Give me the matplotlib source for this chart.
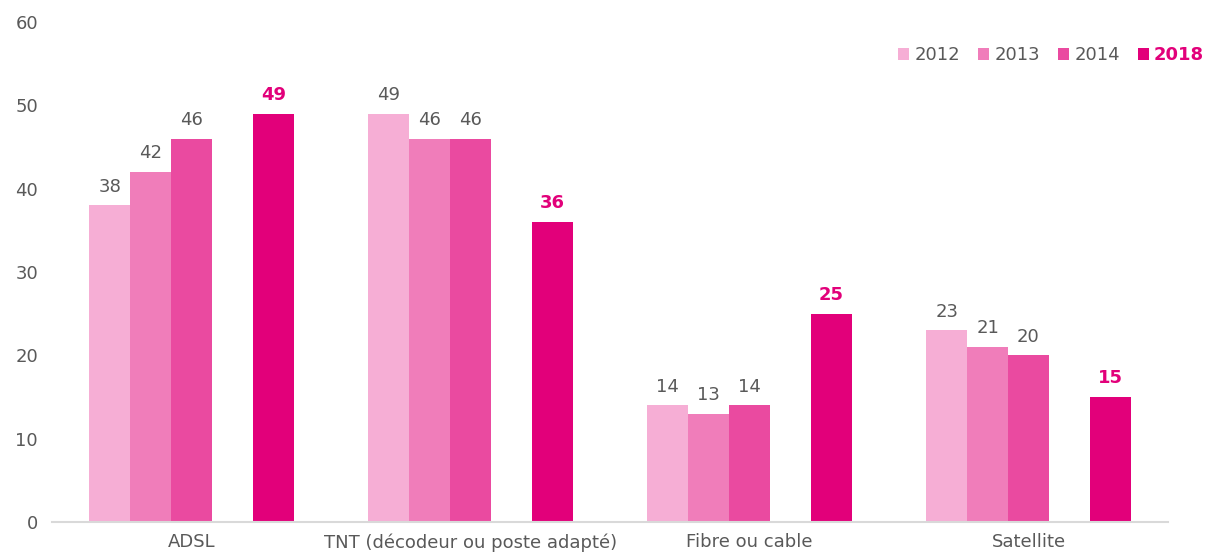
import numpy as np
import matplotlib.pyplot as plt

plt.rcParams['font.family'] = ['DejaVu Sans']

categories = ['ADSL', 'TNT (décodeur ou poste adapté)', 'Fibre ou cable', 'Satellite']
years = ['2012', '2013', '2014', '2018']
v2012 = [38, 49, 14, 23]
v2013 = [42, 46, 13, 21]
v2014 = [46, 46, 14, 20]
v2018 = [49, 36, 25, 15]

colors = ['#F6AED5', '#F07DBA', '#EA4AA0', '#E2007A']
grey = '#595959'

fig = plt.figure(figsize=(12.11, 5.56), dpi=100)
ax = fig.add_axes([52/1211, 34/556, (1168-52)/1211, 500/556])

x = np.arange(len(categories))
w = 0.1465
# 5 slots per group, the 4th one left empty
slots = [-2, -1, 0, 2]
series = [v2012, v2013, v2014, v2018]
for i, vals in enumerate(series):
	bars = ax.bar(x + slots[i]*w, vals, w, color=colors[i], label=years[i])
	for b, v in zip(bars, vals):
		if i == 3:
			ax.annotate(str(v), (b.get_x() + b.get_width()/2, v), xytext=(0, 7),
				textcoords='offset points', ha='center', va='bottom',
				fontsize=13, fontweight='bold', color=colors[3])
		else:
			ax.annotate(str(v), (b.get_x() + b.get_width()/2, v), xytext=(0, 7),
				textcoords='offset points', ha='center', va='bottom',
				fontsize=13, color=grey)

ax.set_xlim(-0.5, 3.5)
ax.set_ylim(0, 60)
ax.set_yticks(range(0, 61, 10))
ax.set_xticks(x)
ax.set_xticklabels(categories)
ax.tick_params(axis='both', length=0, labelsize=13, colors=grey)
ax.tick_params(axis='x', pad=8)
ax.tick_params(axis='y', pad=10)
for s in ['top', 'right', 'left']:
	ax.spines[s].set_visible(False)
ax.spines['bottom'].set_color('#D9D9D9')
ax.spines['bottom'].set_linewidth(1.5)

leg = ax.legend(loc='upper right', bbox_to_anchor=(1.047, 0.984), ncol=4, frameon=False,
	fontsize=13, handlelength=0.6, handleheight=0.6, handletextpad=0.3, columnspacing=1.0)
for t in leg.get_texts():
	t.set_color(grey)
leg.get_texts()[3].set_color(colors[3])
leg.get_texts()[3].set_fontweight('bold')

plt.savefig('out.png', dpi=100)
